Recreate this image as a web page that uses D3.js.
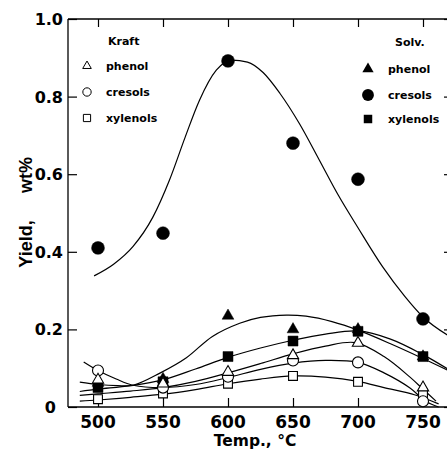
<!DOCTYPE html>
<html><head><meta charset="utf-8">
<script src="https://cdn.jsdelivr.net/npm/d3@7"></script>
<style>html,body{margin:0;padding:0;background:#fff;overflow:hidden}</style>
</head><body>
<svg id="c" width="447" height="450"></svg>
<script>
// ---- data ----
const temps = [500, 550, 600, 650, 700, 750];
const xTickLabels = ["500", "550", "600", "650", "700", "750"];
const yTicks = [0, 0.2, 0.4, 0.6, 0.8, 1.0];
const yTickLabels = ["0", "0.2", "0.4", "0.6", "0.8", "1.0"];

const kraftPhenol  = [0.070, 0.060, 0.090, 0.133, 0.165, 0.050];
const kraftCresol  = [0.094, 0.050, 0.078, 0.120, 0.115, 0.015];
const kraftXylenol = [0.020, 0.035, 0.060, 0.080, 0.065, 0.035];
const solvPhenol   = [0.062, 0.072, 0.235, 0.200, 0.200, 0.130];
const solvCresol   = [0.410, 0.448, 0.892, 0.680, 0.587, 0.227];
const solvXylenol  = [0.050, 0.065, 0.130, 0.170, 0.195, 0.130];

// fitted curves (temperature, yield)
const solvCresolFitT = [497, 512, 527, 542, 555, 567, 578, 591, 603, 615, 627, 640, 655, 670, 685, 700, 719, 736, 750, 769];
const solvCresolFitY = [0.338, 0.368, 0.414, 0.488, 0.585, 0.695, 0.790, 0.868, 0.894, 0.889, 0.862, 0.808, 0.730, 0.638, 0.545, 0.462, 0.361, 0.285, 0.232, 0.185];
const solvPhenolFitT = [486, 500, 515, 527, 548, 568, 588, 609, 625, 645, 660, 680, 700, 725, 750, 769];
const solvPhenolFitY = [0.064, 0.058, 0.055, 0.056, 0.088, 0.127, 0.182, 0.216, 0.231, 0.237, 0.234, 0.220, 0.198, 0.163, 0.125, 0.095];
const solvXylenolFitT = [486, 500, 525, 550, 575, 600, 625, 650, 675, 700, 725, 750, 769];
const solvXylenolFitY = [0.040, 0.046, 0.055, 0.070, 0.098, 0.128, 0.152, 0.172, 0.188, 0.196, 0.175, 0.135, 0.098];
const kraftPhenolFitT = [486, 500, 525, 550, 575, 600, 625, 650, 675, 698, 720, 740, 750, 760];
const kraftPhenolFitY = [0.030, 0.034, 0.041, 0.050, 0.066, 0.088, 0.112, 0.137, 0.157, 0.166, 0.130, 0.077, 0.046, 0.015];
const kraftCresolFitT = [489, 500, 514, 527, 550, 575, 600, 625, 650, 675, 700, 720, 740, 752, 762];
const kraftCresolFitY = [0.116, 0.094, 0.072, 0.056, 0.050, 0.058, 0.076, 0.097, 0.113, 0.120, 0.115, 0.088, 0.049, 0.015, 0.0];
const kraftXylenolFitT = [486, 500, 525, 550, 575, 600, 625, 650, 675, 700, 720, 744, 762];
const kraftXylenolFitY = [0.015, 0.018, 0.025, 0.033, 0.045, 0.060, 0.072, 0.080, 0.077, 0.066, 0.050, 0.031, 0.008];

const legendKraft = ["phenol", "cresols", "xylenols"];
const legendSolv = ["phenol", "cresols", "xylenols"];

// ---- chart ----
const svg = d3.select("#c");
const x = d3.scaleLinear().domain([500, 750]).range([98, 423]);
const y = d3.scaleLinear().domain([0, 1]).range([407, 19]);
const xMin = x.invert(68), xMax = x.invert(452);
const pL = x(xMin), pR = x(xMax), pT = y(1), pB = y(0);

const tickFont = "'DejaVu Sans', sans-serif";
const lblFont = "'DejaVu Sans', sans-serif";
const ylFont = "'Liberation Sans', Arial, sans-serif";

// frame
const frame = svg.append("g").attr("stroke", "#000").attr("fill", "none");
frame.append("line").attr("x1", pL).attr("x2", pR).attr("y1", pB).attr("y2", pB).attr("stroke-width", 1.6);
frame.append("line").attr("x1", pL).attr("x2", pR).attr("y1", pT).attr("y2", pT).attr("stroke-width", 1.3);
frame.append("line").attr("x1", pL).attr("x2", pL).attr("y1", pT).attr("y2", pB).attr("stroke-width", 1.3);
frame.append("line").attr("x1", pR).attr("x2", pR).attr("y1", pT).attr("y2", pB).attr("stroke-width", 1.3);

// axes via d3 axis generators (inward ticks)
const axB = svg.append("g").attr("transform", `translate(0,${pB})`)
  .call(d3.axisTop(x).tickValues(temps).tickSize(9).tickFormat(""));
const axT = svg.append("g").attr("transform", `translate(0,${pT})`)
  .call(d3.axisBottom(x).tickValues(temps).tickSize(8).tickFormat(""));
const axL = svg.append("g").attr("transform", `translate(${pL},0)`)
  .call(d3.axisRight(y).tickValues(yTicks).tickSize(9).tickFormat(""));
const axR = svg.append("g").attr("transform", `translate(${pR},0)`)
  .call(d3.axisLeft(y).tickValues(yTicks).tickSize(8).tickFormat(""));
[axB, axT, axL, axR].forEach(a => { a.select(".domain").remove(); a.selectAll("line").attr("stroke", "#000").attr("stroke-width", 1.2); });

// tick labels
svg.append("g").selectAll("text").data(temps).join("text")
  .attr("x", d => x(d)).attr("y", pB + 21)
  .attr("text-anchor", "middle")
  .attr("font-family", tickFont).attr("font-weight", "bold").attr("font-size", 17)
  .text((d, i) => xTickLabels[i]);
svg.append("g").selectAll("text").data(yTicks).join("text")
  .attr("x", d => d === 0 ? pL - 12 : pL - 5).attr("y", d => y(d) + 6)
  .attr("text-anchor", "end")
  .attr("font-family", tickFont).attr("font-weight", "bold").attr("font-size", 16)
  .text((d, i) => yTickLabels[i]);

// axis titles
svg.append("text").attr("x", 255).attr("y", 446).attr("text-anchor", "middle")
  .attr("font-family", lblFont).attr("font-weight", "bold").attr("font-size", 15.5)
  .text("Temp., °C");
svg.append("text").attr("transform", "translate(32,244) rotate(-90)").attr("text-anchor", "middle")
  .attr("font-family", ylFont).attr("font-weight", "bold").attr("font-size", 18)
  .text("Yield,");
svg.append("text").attr("transform", "translate(32,175) rotate(-90)").attr("text-anchor", "middle")
  .attr("font-family", ylFont).attr("font-weight", "bold").attr("font-size", 18)
  .text("wt%");

// fitted curves
const lineSmooth = d3.line().x(d => x(d[0])).y(d => y(d[1])).curve(d3.curveMonotoneX);
const lineCR = d3.line().x(d => x(d[0])).y(d => y(d[1])).curve(d3.curveCatmullRom.alpha(0.5));
const fits = [
  [solvCresolFitT, solvCresolFitY, lineSmooth],
  [solvPhenolFitT, solvPhenolFitY, lineCR],
  [solvXylenolFitT, solvXylenolFitY, lineCR],
  [kraftPhenolFitT, kraftPhenolFitY, lineCR],
  [kraftCresolFitT, kraftCresolFitY, lineCR],
  [kraftXylenolFitT, kraftXylenolFitY, lineCR]
];
svg.append("g").selectAll("path").data(fits).join("path")
  .attr("d", f => f[2](f[0].map((t, i) => [t, f[1][i]])))
  .attr("fill", "none").attr("stroke", "#000").attr("stroke-width", 1.2);

// markers
const sym = (type, size) => d3.symbol().type(type).size(size)();
function drawMarks(vals, type, size, filled) {
  svg.append("g").selectAll("path").data(temps).join("path")
    .attr("transform", (t, i) => `translate(${x(t)},${y(vals[i])})`)
    .attr("d", sym(type, size))
    .attr("fill", filled ? "#000" : "#fff")
    .attr("stroke", "#000").attr("stroke-width", filled ? 0.5 : 1.1);
}
drawMarks(solvCresol, d3.symbolCircle, 130, true);
drawMarks(solvPhenol, d3.symbolTriangle, 60, true);
drawMarks(solvXylenol, d3.symbolSquare, 100, true);
drawMarks(kraftXylenol, d3.symbolSquare, 78, false);
drawMarks(kraftCresol, d3.symbolCircle, 95, false);
drawMarks(kraftPhenol, d3.symbolTriangle, 55, false);

// legends
const legFont = "'DejaVu Sans', sans-serif";
const legSize = 11;
svg.append("text").attr("x", 108).attr("y", 45).attr("font-family", legFont).attr("font-weight", "bold").attr("font-size", legSize).text("Kraft");
svg.append("text").attr("x", 395).attr("y", 46).attr("font-family", legFont).attr("font-weight", "bold").attr("font-size", legSize).text("Solv.");
const kSyms = [[d3.symbolTriangle, 32], [d3.symbolCircle, 55], [d3.symbolSquare, 52]];
const sSyms = [[d3.symbolTriangle, 55], [d3.symbolCircle, 110], [d3.symbolSquare, 72]];
const kY = [66, 92, 118], sY = [69, 95, 119];
legendKraft.forEach((lab, i) => {
  svg.append("path").attr("transform", `translate(87,${kY[i]})`).attr("d", sym(kSyms[i][0], kSyms[i][1]))
    .attr("fill", "#fff").attr("stroke", "#000").attr("stroke-width", 1);
  svg.append("text").attr("x", 106).attr("y", kY[i] + 4).attr("font-family", legFont).attr("font-weight", "bold").attr("font-size", legSize).text(lab);
});
legendSolv.forEach((lab, i) => {
  svg.append("path").attr("transform", `translate(368,${sY[i]})`).attr("d", sym(sSyms[i][0], sSyms[i][1]))
    .attr("fill", "#000");
  svg.append("text").attr("x", 388).attr("y", sY[i] + 4).attr("font-family", legFont).attr("font-weight", "bold").attr("font-size", legSize).text(lab);
});
</script>
</body></html>
